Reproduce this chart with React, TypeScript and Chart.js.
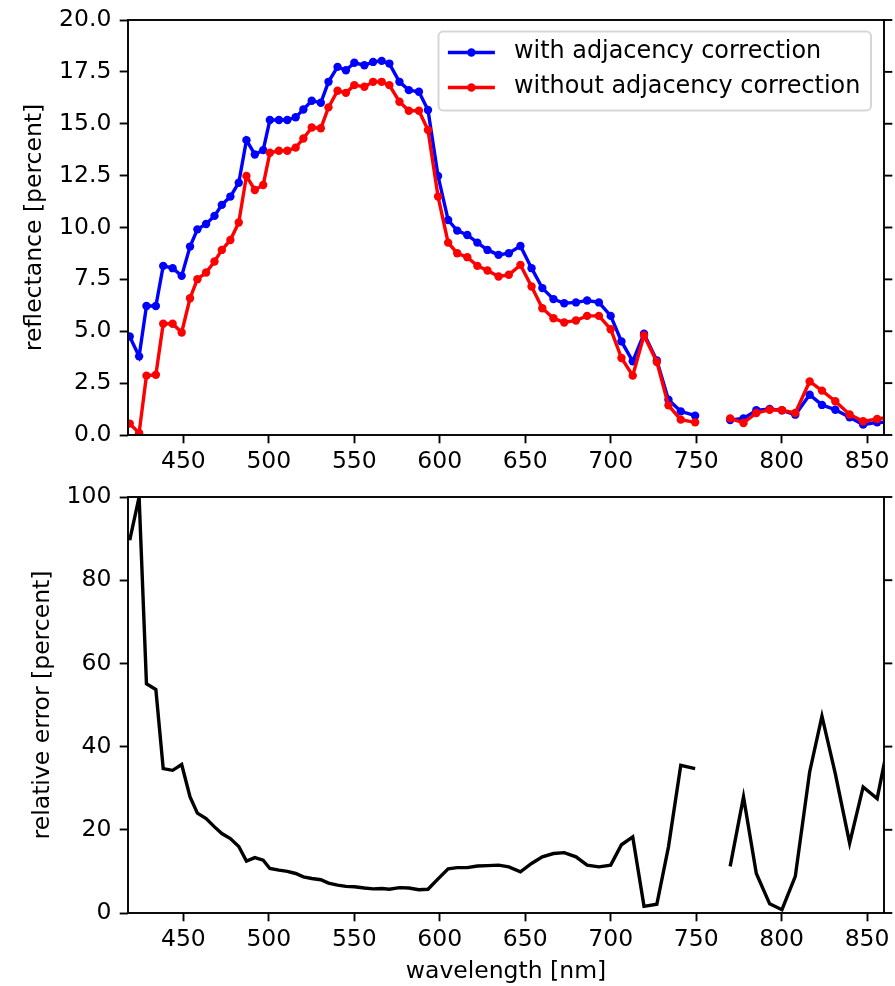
import React, { useEffect, useRef } from 'react';
import { Chart, registerables } from 'chart.js';

Chart.register(...registerables);

// ---- data ----
const wavelengths = [
  418.6, 424.1, 428.4, 433.9, 438.2, 443.7, 449.0, 453.9, 458.2, 463.3,
  468.2, 472.5, 477.5, 482.4, 486.9, 491.8, 496.7, 500.6, 505.9, 510.8,
  515.7, 520.2, 525.1, 530.4, 534.9, 540.2, 545.1, 550.0, 555.9, 561.0,
  566.0, 570.5, 576.4, 581.9, 587.8, 593.1, 599.0, 604.9, 610.2, 616.1,
  622.0, 627.9, 634.4, 640.4, 647.2, 653.7, 660.0, 666.5, 672.8, 679.7,
  686.2, 693.1, 700.0, 706.3, 712.9, 719.5, 727.0, 733.8, 741.0, 749.4,
  759.6,
  769.9, 777.7, 785.2, 793.0, 800.2, 808.0, 816.4, 823.6, 831.4, 839.8,
  847.7, 855.9, 864.0,
];

const withCorrection = [
  4.75, 3.79, 6.22, 6.22, 8.15, 8.04, 7.67, 9.08, 9.91, 10.17,
  10.56, 11.09, 11.49, 12.16, 14.21, 13.52, 13.73, 15.18, 15.18, 15.18,
  15.31, 15.69, 16.11, 16.01, 17.02, 17.74, 17.58, 17.94, 17.82, 17.98,
  18.03, 17.90, 17.02, 16.62, 16.54, 15.66, 12.48, 10.36, 9.85, 9.64,
  9.27, 8.92, 8.68, 8.76, 9.11, 8.04, 7.08, 6.55, 6.35, 6.39,
  6.48, 6.39, 5.74, 4.51, 3.55, 4.88, 3.59, 1.70, 1.14, 0.93,
  null,
  0.72, 0.80, 1.19, 1.25, 1.19, 0.98, 1.94, 1.45, 1.22, 0.85,
  0.50, 0.61, 0.62,
];

const withoutCorrection = [
  0.55, 0.10, 2.86, 2.90, 5.36, 5.36, 4.94, 6.59, 7.51, 7.83,
  8.36, 8.92, 9.40, 10.24, 12.48, 11.81, 12.05, 13.60, 13.70, 13.70,
  13.85, 14.29, 14.82, 14.78, 15.79, 16.59, 16.49, 16.86, 16.78, 17.02,
  17.02, 16.86, 16.06, 15.63, 15.63, 14.70, 11.49, 9.27, 8.76, 8.57,
  8.15, 7.93, 7.64, 7.72, 8.20, 7.16, 6.11, 5.63, 5.42, 5.52,
  5.74, 5.74, 5.10, 3.71, 2.86, 4.80, 3.52, 1.43, 0.74, 0.61,
  null,
  0.80, 0.58, 1.06, 1.22, 1.19, 1.06, 2.58, 2.14, 1.63, 0.99,
  0.66, 0.77, 0.88,
];

const relativeError = [
  89.6, 100, 55.1, 53.7, 34.7, 34.3, 35.7, 27.9, 24.0, 22.7,
  20.7, 19.1, 17.9, 16.0, 12.5, 13.3, 12.7, 10.7, 10.3, 10.0,
  9.5, 8.7, 8.3, 8.0, 7.2, 6.7, 6.4, 6.3, 6.0, 5.8,
  5.9, 5.7, 6.1, 6.0, 5.6, 5.7, 8.2, 10.6, 10.9, 10.9,
  11.3, 11.4, 11.5, 11.1, 9.9, 11.9, 13.5, 14.3, 14.5, 13.5,
  11.5, 11.1, 11.5, 16.4, 18.3, 1.6, 2.1, 15.9, 35.5, 34.7,
  null,
  11.2, 27.9, 9.5, 2.2, 0.8, 8.8, 33.9, 47.3, 33.5, 16.8,
  30.3, 27.5, 44.0,
];

const wavelengthTicks = [450, 500, 550, 600, 650, 700, 750, 800, 850];
const reflectanceTicks = [0, 2.5, 5, 7.5, 10, 12.5, 15, 17.5, 20];
const errorTicks = [0, 20, 40, 60, 80, 100];
const legendLabels = ['with adjacency correction', 'without adjacency correction'];
const seriesColors = ['#0000ff', '#ff0000'];

// ---- styling ----
const FONT = "'DejaVu Sans', sans-serif";
const FS = 23.5;
const LEGEND_FS = 23.9;
const X_MIN = 417.6;
const X_MAX = 859.9;
const TICK_LEN = 8.3;
const SPINE_W = 1.9;
const LINE_W = 3.4;
const DOT_R = 4.2;

function pts(ys: (number | null)[]) {
  return wavelengths.map((x, i) => ({ x, y: ys[i] }));
}

const framePlugin = {
  id: 'mplFrame',
  afterDatasetsDraw(chart: any) {
    const { ctx, chartArea } = chart;
    const { left, right, top, bottom } = chartArea;
    ctx.save();
    ctx.strokeStyle = '#000';
    ctx.lineWidth = SPINE_W;
    ctx.strokeRect(left, top, right - left, bottom - top);
    const ys = chart.scales.y;
    ys.ticks.forEach((t: any) => {
      const py = ys.getPixelForValue(t.value);
      ctx.beginPath();
      ctx.moveTo(right, py);
      ctx.lineTo(right + TICK_LEN, py);
      ctx.stroke();
    });
    ctx.restore();
  },
};

const legendPlugin = {
  id: 'mplLegend',
  afterDraw(chart: any) {
    const { ctx } = chart;
    const x0 = 438.5, x1 = 871, y0 = 31.5, y1 = 110.5, r = 4.7;
    ctx.save();
    ctx.beginPath();
    ctx.moveTo(x0 + r, y0);
    ctx.lineTo(x1 - r, y0);
    ctx.arcTo(x1, y0, x1, y0 + r, r);
    ctx.lineTo(x1, y1 - r);
    ctx.arcTo(x1, y1, x1 - r, y1, r);
    ctx.lineTo(x0 + r, y1);
    ctx.arcTo(x0, y1, x0, y1 - r, r);
    ctx.lineTo(x0, y0 + r);
    ctx.arcTo(x0, y0, x0 + r, y0, r);
    ctx.closePath();
    ctx.fillStyle = 'rgba(255,255,255,0.8)';
    ctx.fill();
    ctx.strokeStyle = 'rgba(204,204,204,0.8)';
    ctx.lineWidth = 2;
    ctx.stroke();
    const rows = [52.5, 87.5];
    const hx0 = 447.9, hx1 = 494.9, tx = 514;
    ctx.font = `${LEGEND_FS}px ${FONT}`;
    ctx.textBaseline = 'middle';
    ctx.textAlign = 'left';
    legendLabels.forEach((label, i) => {
      const y = rows[i];
      ctx.strokeStyle = seriesColors[i];
      ctx.lineWidth = LINE_W;
      ctx.beginPath();
      ctx.moveTo(hx0, y);
      ctx.lineTo(hx1, y);
      ctx.stroke();
      ctx.fillStyle = seriesColors[i];
      ctx.beginPath();
      ctx.arc((hx0 + hx1) / 2, y, DOT_R, 0, Math.PI * 2);
      ctx.fill();
      ctx.fillStyle = '#000';
      ctx.fillText(label, tx, y - 1);
    });
    ctx.restore();
  },
};

const gridOpts = {
  display: true,
  drawOnChartArea: false,
  drawTicks: true,
  tickLength: TICK_LEN,
  tickWidth: SPINE_W,
  tickColor: '#000',
};

function xScale(showTitle: boolean, height: number) {
  return {
    type: 'linear',
    position: 'bottom',
    min: X_MIN,
    max: X_MAX,
    afterBuildTicks: (s: any) => {
      s.ticks = wavelengthTicks.map((v) => ({ value: v }));
    },
    afterFit: (s: any) => {
      s.height = height;
      s.paddingLeft = 0;
      s.paddingRight = 0;
    },
    grid: gridOpts,
    border: { display: false },
    ticks: {
      color: '#000',
      font: { family: FONT, size: FS },
      padding: 4,
      maxRotation: 0,
      minRotation: 0,
      autoSkip: false,
      callback: (v: any) => String(v),
    },
    title: {
      display: showTitle,
      text: 'wavelength [nm]',
      color: '#000',
      font: { family: FONT, size: FS },
      padding: { top: 0, bottom: 0 },
    },
  };
}

function yScale(
  min: number,
  max: number,
  ticks: number[],
  fmt: (v: number) => string,
  title: string,
  titlePad: number
) {
  return {
    type: 'linear',
    position: 'left',
    min,
    max,
    afterBuildTicks: (s: any) => {
      s.ticks = ticks.map((v) => ({ value: v }));
    },
    afterFit: (s: any) => {
      s.width = 128;
      s.paddingTop = 0;
      s.paddingBottom = 0;
    },
    grid: gridOpts,
    border: { display: false },
    ticks: {
      color: '#000',
      font: { family: FONT, size: FS },
      padding: TICK_LEN,
      autoSkip: false,
      callback: (v: any) => fmt(Number(v)),
    },
    title: {
      display: true,
      text: title,
      color: '#000',
      font: { family: FONT, size: FS },
      padding: { top: titlePad, bottom: 0 },
    },
  };
}

export default function App() {
  const topRef = useRef<HTMLCanvasElement | null>(null);
  const botRef = useRef<HTMLCanvasElement | null>(null);

  useEffect(() => {
    document.body.style.margin = '0';
    Chart.defaults.font.family = FONT;
    Chart.defaults.font.size = FS;
    Chart.defaults.color = '#000';

    const common = {
      responsive: false,
      animation: false,
      devicePixelRatio: 1,
      events: [],
      plugins: { legend: { display: false }, tooltip: { enabled: false } },
    };

    const top = new Chart(topRef.current as HTMLCanvasElement, {
      type: 'line',
      data: {
        datasets: [
          {
            label: legendLabels[0],
            data: pts(withCorrection),
            borderColor: seriesColors[0],
            backgroundColor: seriesColors[0],
            pointBackgroundColor: seriesColors[0],
            borderWidth: LINE_W,
            pointRadius: DOT_R,
            pointBorderWidth: 0,
            tension: 0,
            spanGaps: false,
            clip: 0,
            order: 2,
          },
          {
            label: legendLabels[1],
            data: pts(withoutCorrection),
            borderColor: seriesColors[1],
            backgroundColor: seriesColors[1],
            pointBackgroundColor: seriesColors[1],
            borderWidth: LINE_W,
            pointRadius: DOT_R,
            pointBorderWidth: 0,
            tension: 0,
            spanGaps: false,
            clip: 0,
            order: 1,
          },
        ],
      },
      options: {
        ...common,
        layout: { padding: { top: 20, right: 11, bottom: 0, left: 0 } },
        scales: {
          x: xScale(false, 55),
          y: yScale(0, 20, reflectanceTicks, (v) => v.toFixed(1), 'reflectance [percent]', 21),
        },
      } as any,
      plugins: [framePlugin, legendPlugin],
    } as any);

    const bot = new Chart(botRef.current as HTMLCanvasElement, {
      type: 'line',
      data: {
        datasets: [
          {
            label: 'relative error',
            data: pts(relativeError),
            borderColor: '#000000',
            backgroundColor: '#000000',
            borderWidth: LINE_W,
            pointRadius: 0,
            tension: 0,
            spanGaps: false,
            clip: 0,
          },
        ],
      },
      options: {
        ...common,
        layout: { padding: { top: 27, right: 11, bottom: 0, left: 0 } },
        scales: {
          x: xScale(true, 73),
          y: yScale(0, 100, errorTicks, (v) => String(Math.round(v)), 'relative error [percent]', 29),
        },
      } as any,
      plugins: [framePlugin],
    } as any);

    return () => {
      top.destroy();
      bot.destroy();
    };
  }, []);

  return (
    <div style={{ position: 'relative', width: 895, height: 986, background: '#ffffff' }}>
      <canvas
        ref={topRef}
        width={895}
        height={490}
        style={{ position: 'absolute', left: 0, top: 0, width: 895, height: 490 }}
      />
      <canvas
        ref={botRef}
        width={895}
        height={516}
        style={{ position: 'absolute', left: 0, top: 470, width: 895, height: 516 }}
      />
    </div>
  );
}
